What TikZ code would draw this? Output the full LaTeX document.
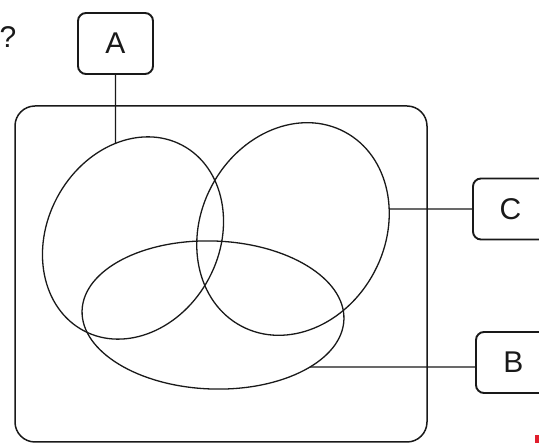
\documentclass[tikz,border=0pt]{standalone}
\usepackage{fontspec}
\setmainfont{Liberation Sans}
\usetikzlibrary{intersections}
\definecolor{ink}{gray}{0.1}
\definecolor{scanred}{RGB}{225,30,45}
\begin{document}
\begin{tikzpicture}[x=1pt,y=-1pt,
  lbl/.style={draw=ink, line width=1.9pt, rounded corners=8pt, minimum width=75pt,
    minimum height=61pt, inner sep=0pt, font=\fontsize{30}{32}\selectfont, text=ink},
  qmark/.style={inner sep=0pt, font=\fontsize{30}{32}\selectfont, text=ink},
  setline/.style={draw=ink, line width=1.3pt},
  frame/.style={draw=ink, line width=1.5pt, rounded corners=20pt},
  link/.style={draw=ink, line width=1.2pt}]
\useasboundingbox (0,0) rectangle (539,443);

% question mark
\node[qmark] (q) at (8,37) {?};

% universe frame
\draw[frame] (15,106) rectangle (427,442);

% sets
\draw[setline, name path=Lset, shift={(133,238)}, rotate=62] (0,0) ellipse [x radius=105, y radius=86];
\draw[setline, name path=Rset, shift={(293,229)}, rotate=62] (0,0) ellipse [x radius=110, y radius=92];
\draw[setline, name path=Bset, shift={(213,315)}, rotate=-2] (0,0) ellipse [x radius=131, y radius=74];

% label boxes
\node[lbl] (A) at (115.5,43.5) {A};
\node[lbl] (C) at (510.5,209) {C};
\node[lbl] (B) at (513.5,362.5) {B};

% connector helpers
\path[name path=vA] (A.south) -- ++(0,110);
\path[name path=hC] (C.west) -- ++(-120,0);
\path[name path=hB] (B.west |- 0,367) -- ++(-200,0);
\path[name intersections={of=vA and Lset, by={pA}}];
\path[name intersections={of=hC and Rset, by={pC}}];
\path[name intersections={of=hB and Bset, by={pB}}];
\coordinate (bB) at (B.west |- 0,367);

\draw[link] (A.south) -- (pA);
\draw[link] (C.west) -- (pC);
\draw[link] (bB) -- (pB);

% scan mark
\fill[scanred] (535,435) rectangle (539,443);
\end{tikzpicture}
\end{document}
